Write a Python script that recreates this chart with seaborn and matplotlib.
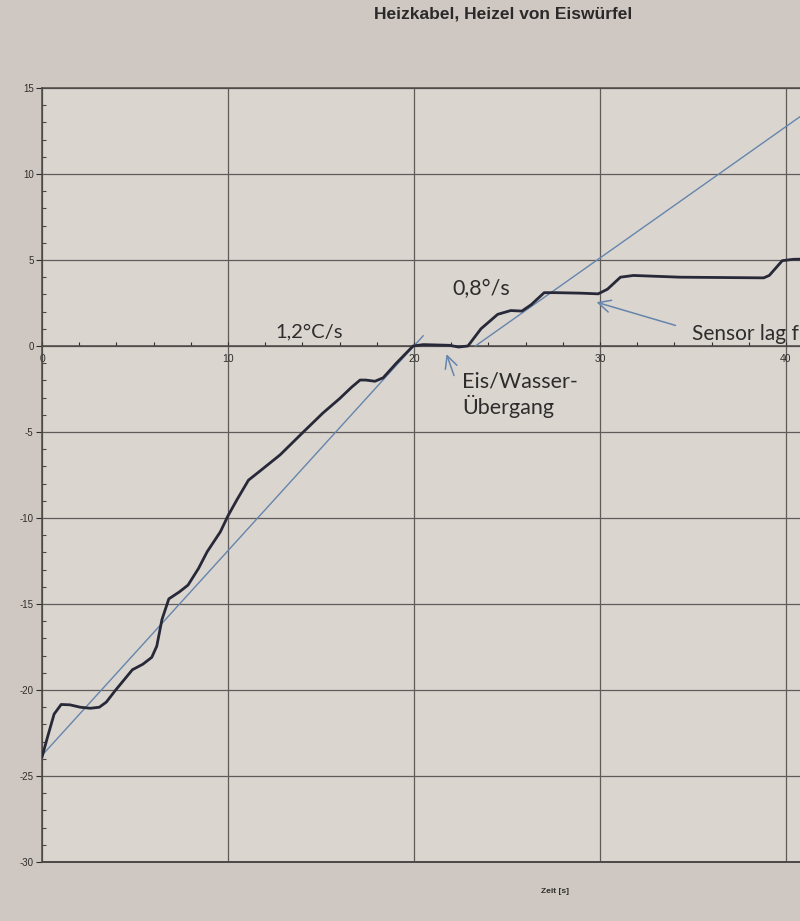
import matplotlib
matplotlib.use('Agg')
import matplotlib.pyplot as plt
import seaborn as sns
import pandas as pd
from matplotlib.ticker import MultipleLocator

# Messkurve
zeit = [0, 0.28, 0.65, 1.03, 1.5, 2.06, 2.6, 3.08, 3.46, 3.93, 4.86, 5.42, 5.9, 6.17,
        6.45, 6.82, 7.38, 7.85, 8.41, 8.88, 9.59, 10.0, 10.48, 11.1, 11.73, 12.8,
        14.05, 15.1, 16.0, 16.64, 17.1, 17.4, 17.9, 18.34, 19.05, 19.95, 20.5, 21.9,
        22.4, 22.9, 23.6, 24.5, 25.2, 25.8, 26.3, 27.0, 27.6, 29.0, 29.9, 30.4, 31.1,
        31.8, 34.3, 38.8, 39.1, 39.8, 40.4, 41.0]
temp = [-23.9, -22.8, -21.4, -20.84, -20.86, -21.0, -21.06, -21.0, -20.7, -20.04,
        -18.82, -18.5, -18.1, -17.45, -15.9, -14.7, -14.3, -13.9, -12.94, -11.96,
        -10.8, -9.87, -8.94, -7.8, -7.26, -6.33, -5.0, -3.9, -3.06, -2.4, -1.98,
        -1.98, -2.05, -1.85, -1.0, 0.0, 0.08, 0.04, -0.06, 0.0, 1.0, 1.84, 2.06,
        2.03, 2.4, 3.1, 3.1, 3.07, 3.03, 3.3, 4.0, 4.1, 4.0, 3.96, 4.1, 4.96, 5.04, 5.05]

# eingezeichnete Geraden
fit1_zeit = [0.0, 20.5]
fit1_temp = [-23.8, 0.6]
fit2_zeit = [23.3, 41.5]
fit2_temp = [0.0, 13.9]

y_ticks = [15, 10, 5, 0, -5, -10, -15, -20, -25, -30]
x_ticks = [0, 10, 20, 30, 40]

mess = pd.DataFrame({'zeit': zeit, 'temp': temp})

sns.set_theme(style='ticks')
plt.rcParams['font.family'] = ['Liberation Sans', 'DejaVu Sans']
plt.rcParams['axes.unicode_minus'] = False

fig = plt.figure(figsize=(8, 9.21), dpi=100, facecolor='#cfc8c2')
ax = fig.add_axes([0.0525, 0.064, 1.1625, 0.8405])
ax.set_facecolor('#dad5cf')

blau = '#6585ad'
sns.lineplot(x=fit1_zeit, y=fit1_temp, ax=ax, color=blau, lw=1.0, zorder=3)
sns.lineplot(x=fit2_zeit, y=fit2_temp, ax=ax, color=blau, lw=1.0, zorder=3)
sns.lineplot(data=mess, x='zeit', y='temp', ax=ax, color='#272838', lw=2.0,
             sort=False, estimator=None, zorder=4)

ax.set_xlim(0, 50)
ax.set_ylim(-30, 15)
ax.set_xticks(x_ticks)
ax.set_yticks(y_ticks)
ax.xaxis.set_minor_locator(MultipleLocator(2))
ax.yaxis.set_minor_locator(MultipleLocator(1))
ax.grid(True, which='major', color='#5f5b58', lw=0.9)
ax.axvline(50, color='#5f5b58', lw=0.9, zorder=1)
ax.set_axisbelow(True)

ax.spines['bottom'].set_position(('data', 0))
for s in ['left', 'bottom', 'top']:
    ax.spines[s].set_color('#4a4745')
    ax.spines[s].set_linewidth(1.1)
ax.axhline(-30, color='#4a4745', lw=1.4, clip_on=False, zorder=2)

ax.tick_params(axis='y', which='major', direction='out', length=4, width=0.8,
               labelsize=7, pad=2, colors='#2f2d2c')
ax.tick_params(axis='y', which='minor', direction='in', length=3, width=0.8,
               colors='#4a4745')
ax.tick_params(axis='x', which='both', direction='in', length=3, width=0.8,
               labelsize=7.5, pad=6, colors='#2f2d2c')

ax.set_xlabel('Zeit [s]', fontsize=6, fontweight='bold', color='#2f2d2c')
ax.xaxis.set_label_coords(0.552, -0.034)
ax.set_ylabel('')

fig.text(503 / 800, 1 - 14 / 921, 'Heizkabel, Heizel von Eiswürfel', ha='center',
         va='center', fontsize=12.5, fontweight='bold', color='#2b2929')

# handschriftliche Notizen
notiz = dict(family=['Lato', 'DejaVu Sans'], color='#2e2c2c')
ax.text(12.56, 0.5, '1,2°C/s', fontsize=14.5, **notiz)
ax.text(22.04, 2.97, '0,8°/s', fontsize=15.5, **notiz)
ax.text(22.58, -3.94, 'Eis/Wasser-\nÜbergang', fontsize=15.5, linespacing=1.15,
        va='baseline', **notiz)
ax.text(34.93, 0.37, 'Sensor lag f', fontsize=15, **notiz)

pfeil = dict(arrowstyle='->', color=blau, lw=1.1, mutation_scale=22)
ax.annotate('', xy=(21.7, -0.32), xytext=(22.2, -1.87), arrowprops=pfeil, zorder=5)
ax.annotate('', xy=(29.67, 2.59), xytext=(34.2, 1.15), arrowprops=pfeil, zorder=5)

fig.savefig('out.png', dpi=100, facecolor=fig.get_facecolor())
